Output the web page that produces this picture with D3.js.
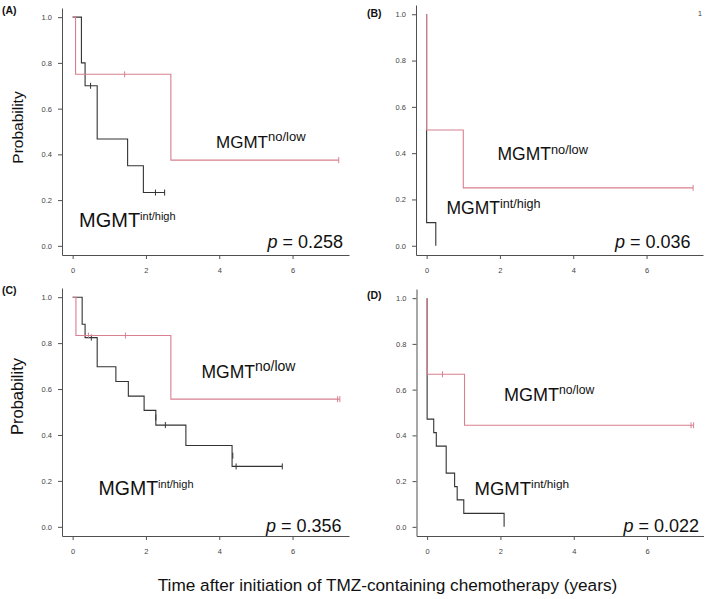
<!DOCTYPE html>
<html>
<head>
<meta charset="utf-8">
<script src="https://cdn.jsdelivr.net/npm/d3@7"></script>
<style>
  html, body { margin: 0; padding: 0; background: #fff; }
  svg { display: block; font-family: "Liberation Sans", Arial, Helvetica, sans-serif; }
</style>
</head>
<body>
<svg id="chart" width="709" height="599"></svg>
<script>
// ---------- data ----------
const panelLabels = ["(A)", "(B)", "(C)", "(D)"];
const pValues = ["0.258", "0.036", "0.356", "0.022"];
const xTicks = [0, 2, 4, 6];
const yTicks = [0, 0.2, 0.4, 0.6, 0.8, 1.0];
const groupNames = ["no/low", "int/high"];

// Panel A
const aLowTimes  = [0, 0.08, 2.68, 7.26];
const aLowSurv   = [1, 0.75, 0.375, 0.375];
const aLowCensT  = [1.42, 7.26];
const aLowCensS  = [0.75, 0.375];
const aHighTimes = [0, 0.24, 0.34, 0.67, 1.50, 1.93, 2.51];
const aHighSurv  = [1, 0.8, 0.7, 0.467, 0.35, 0.233, 0.233];
const aHighCensT = [0.49, 2.26, 2.51];
const aHighCensS = [0.7, 0.233, 0.233];

// Panel B
const bLowTimes  = [0, 0, 1.0, 7.27];
const bLowSurv   = [1, 0.5, 0.25, 0.25];
const bLowCensT  = [7.27];
const bLowCensS  = [0.25];
const bHighTimes = [0, 0, 0.25];
const bHighSurv  = [1, 0.1, 0];
const bHighCensT = [];
const bHighCensS = [];

// Panel C
const cLowTimes  = [0, 0.09, 2.68, 7.29];
const cLowSurv   = [1, 0.833, 0.556, 0.556];
const cLowCensT  = [0.43, 1.44, 7.23, 7.29];
const cLowCensS  = [0.833, 0.833, 0.556, 0.556];
const cHighTimes = [0, 0.26, 0.34, 0.67, 1.18, 1.52, 1.95, 2.27, 3.09, 4.35, 5.72];
const cHighSurv  = [1, 0.882, 0.824, 0.697, 0.633, 0.569, 0.507, 0.443, 0.354, 0.263, 0.263];
const cHighCensT = [0.51, 2.27, 2.53, 4.37, 4.46, 5.72];
const cHighCensS = [0.824, 0.476, 0.443, 0.31, 0.263, 0.263];

// Panel D
const dLowTimes  = [0, 0, 1.02, 7.27];
const dLowSurv   = [1, 0.667, 0.444, 0.444];
const dLowCensT  = [0.42, 7.20, 7.27];
const dLowCensS  = [0.667, 0.444, 0.444];
const dHighTimes = [0, 0, 0.18, 0.25, 0.52, 0.75, 0.82, 1.0, 2.1];
const dHighSurv  = [1, 0.471, 0.412, 0.353, 0.235, 0.176, 0.118, 0.059, 0];
const dHighCensT = [];
const dHighCensS = [];

// ---------- layout ----------
const colLow = "#d8808f";
const colHigh = "#333333";
const axisCol = "#505050";

const panels = [
  { label: panelLabels[0], p: pValues[0], left: 62, top: 8, bottom: 255, ylab: true, ylabY: 127.5, ylabSize: 15.5,
    labPos: [2, 14],
    low:  { t: aLowTimes, s: aLowSurv, ct: aLowCensT, cs: aLowCensS },
    high: { t: aHighTimes, s: aHighSurv, ct: aHighCensT, cs: aHighCensS },
    lowLab:  { x: 216, y: 147.5, F: 17, f: 13 },
    highLab: { x: 79, y: 227, F: 20, f: 11 },
    pRight: 343, pBase: 248 },
  { label: panelLabels[1], p: pValues[1], left: 416, top: 5, bottom: 255, ylab: false,
    labPos: [367, 16.5],
    low:  { t: bLowTimes, s: bLowSurv, ct: bLowCensT, cs: bLowCensS },
    high: { t: bHighTimes, s: bHighSurv, ct: bHighCensT, cs: bHighCensS },
    lowLab:  { x: 497.5, y: 160, F: 17.5, f: 12.8 },
    highLab: { x: 446.5, y: 214, F: 17.5, f: 12.6 },
    pRight: 690.5, pBase: 248 },
  { label: panelLabels[2], p: pValues[2], left: 62, top: 288, bottom: 536, ylab: true, ylabY: 396.5, ylabSize: 16.5,
    labPos: [2, 294],
    low:  { t: cLowTimes, s: cLowSurv, ct: cLowCensT, cs: cLowCensS },
    high: { t: cHighTimes, s: cHighSurv, ct: cHighCensT, cs: cHighCensS },
    lowLab:  { x: 201.5, y: 377.5, F: 17.5, f: 14 },
    highLab: { x: 98.5, y: 495, F: 19.5, f: 11 },
    pRight: 341.5, pBase: 532 },
  { label: panelLabels[3], p: pValues[3], left: 416.5, top: 289, bottom: 536, ylab: false,
    labPos: [367, 299],
    low:  { t: dLowTimes, s: dLowSurv, ct: dLowCensT, cs: dLowCensS },
    high: { t: dHighTimes, s: dHighSurv, ct: dHighCensT, cs: dHighCensS },
    lowLab:  { x: 504, y: 400.5, F: 18, f: 12.2 },
    highLab: { x: 474.5, y: 495, F: 18.5, f: 11.8 },
    pRight: 699, pBase: 532 }
];

const svg = d3.select("#chart");
const plotW = 287;

function stepPath(x, y, t, s) {
  let d = `M${x(t[0])},${y(s[0])}`;
  for (let i = 1; i < t.length; i++) {
    d += `H${x(t[i])}V${y(s[i])}`;
  }
  return d;
}

panels.forEach(P => {
  const x = d3.scaleLinear().domain([-0.29, 7.54]).range([P.left, P.left + plotW]);
  const y = d3.scaleLinear().domain([-0.04, 1.04]).range([P.bottom, P.top]);
  const g = svg.append("g");

  // axes
  const yAxis = d3.axisLeft(y).tickValues(yTicks).tickFormat(d3.format(".1f"))
    .tickSize(4).tickSizeOuter(0).tickPadding(6);
  const xAxis = d3.axisBottom(x).tickValues(xTicks).tickFormat(d3.format("d"))
    .tickSize(4).tickSizeOuter(0).tickPadding(9);
  const gy = g.append("g").attr("transform", `translate(${P.left},0)`).call(yAxis);
  const gx = g.append("g").attr("transform", `translate(0,${P.bottom})`).call(xAxis);
  [gx, gy].forEach(a => {
    a.select(".domain").attr("stroke", axisCol).attr("stroke-width", 1);
    a.selectAll(".tick line").attr("stroke", axisCol);
    a.selectAll(".tick text").attr("fill", "#444").style("font-size", "7.5px")
      .style("font-family", "'Liberation Sans', Arial, sans-serif");
  });

  // curves: high first, low on top
  [["high", colHigh], ["low", colLow]].forEach(([k, c]) => {
    const d = P[k];
    g.append("path").attr("d", stepPath(x, y, d.t, d.s))
      .attr("fill", "none").attr("stroke", c).attr("stroke-width", 1.1);
    g.selectAll(null).data(d.ct.map((tt, i) => [tt, d.cs[i]])).enter()
      .append("line")
      .attr("x1", v => x(v[0])).attr("x2", v => x(v[0]))
      .attr("y1", v => y(v[1]) - 3).attr("y2", v => y(v[1]) + 3)
      .attr("stroke", c).attr("stroke-width", 1);
  });

  // group labels
  const lab = (L, sup) => {
    const t = g.append("text").attr("x", L.x).attr("y", L.y).attr("fill", "#111")
      .style("font-size", L.F + "px");
    t.append("tspan").text("MGMT");
    t.append("tspan").attr("dy", -L.F * 0.36).style("font-size", L.f + "px").text(sup);
  };
  lab(P.lowLab, groupNames[0]);
  lab(P.highLab, groupNames[1]);

  // p value
  const pt = g.append("text").attr("x", P.pRight).attr("y", P.pBase).attr("text-anchor", "end")
    .attr("fill", "#111").style("font-size", "18px");
  pt.append("tspan").style("font-style", "italic").text("p");
  pt.append("tspan").text(" = " + P.p);

  // panel label
  g.append("text").attr("x", P.labPos[0]).attr("y", P.labPos[1]).attr("fill", "#111")
    .style("font-size", "10.5px").style("font-weight", "bold").text(P.label);

  // y label
  if (P.ylab) {
    g.append("text").attr("transform", `translate(22.5,${P.ylabY}) rotate(-90)`)
      .attr("text-anchor", "middle").attr("fill", "#111")
      .style("font-size", P.ylabSize + "px").text("Probability");
  }
});

// stray "1" marker in panel B corner
svg.append("text").attr("x", 698).attr("y", 16).attr("fill", "#333")
  .style("font-size", "7px").text("1");

// x-axis title
svg.append("text").attr("x", 387.5).attr("y", 591).attr("text-anchor", "middle")
  .attr("fill", "#111").style("font-size", "17.2px")
  .text("Time after initiation of TMZ-containing chemotherapy (years)");
</script>
</body>
</html>
